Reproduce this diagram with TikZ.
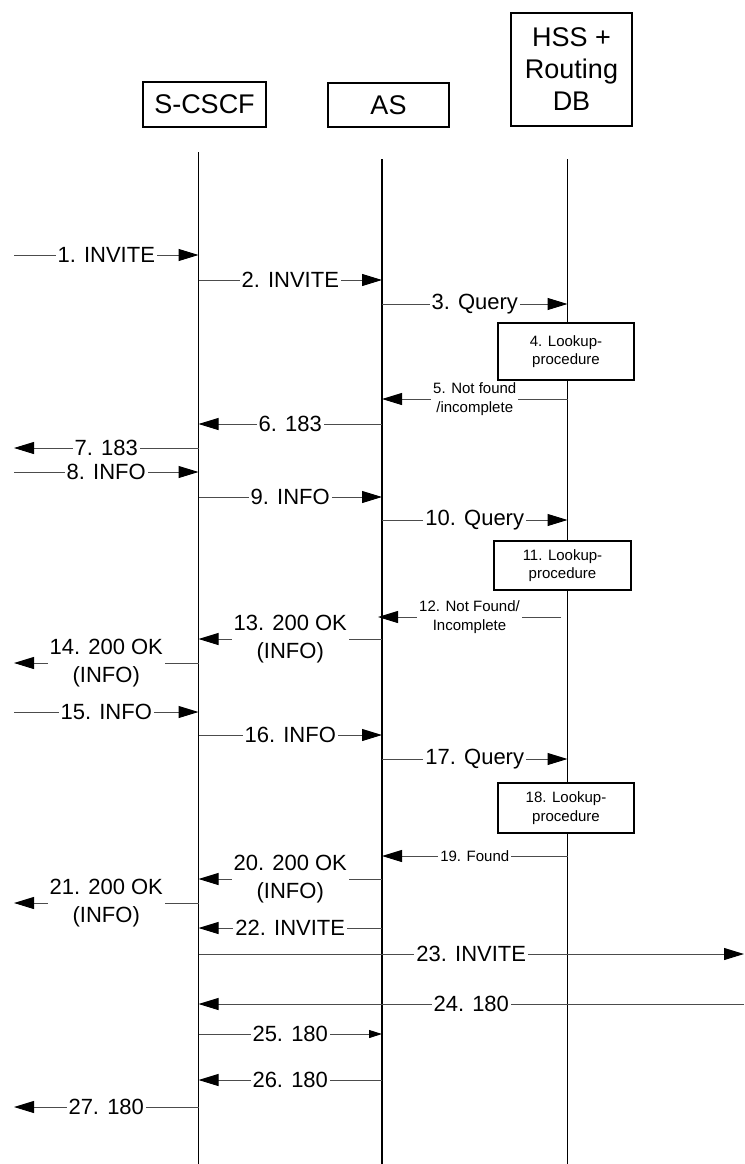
\documentclass[tikz,border=0pt]{standalone}
\usepackage{fontspec}
\setmainfont{Liberation Sans}
\usetikzlibrary{arrows.meta}
\newcommand{\msgfont}{\fontsize{22}{28}\selectfont}
\newcommand{\smallfont}{\fontsize{15}{18.5}\selectfont}
\newcommand{\headfont}{\fontsize{27}{32}\selectfont}
\tikzset{
  life/.style={line width=1.8pt, black},
  headbox/.style={draw, line width=1.4pt, align=center, font=\headfont, inner sep=0pt},
  lookbox/.style={draw, line width=1.4pt, fill=white, align=center, font=\smallfont, inner sep=0pt},
  msg/.style={line width=1pt, black!70, -{Triangle[length=20pt,width=12pt,color=black]}},
  msgsmall/.style={line width=1pt, black!70, -{Triangle[length=13pt,width=8pt,color=black]}},
  lbl/.style={fill=white, inner sep=2pt, text=black, font=\msgfont, align=center, midway},
  slbl/.style={fill=white, inner sep=2pt, text=black, font=\smallfont, align=center, midway}
}
\newcommand{\seqmsg}[5][msg]{\draw[#1] (#2 |- 0,#4) -- (#3 |- 0,#4) node[lbl]{#5};}
\begin{document}
\begin{tikzpicture}[x=1pt,y=-1pt]
\useasboundingbox (0,0) rectangle (744,1164);
% headers
\node[headbox, minimum width=123pt, minimum height=45pt] (hS) at (204.5,104.5) {S-CSCF};
\node[headbox, minimum width=121pt, minimum height=44pt] (hA) at (388.5,105) {AS};
\node[headbox, minimum width=121pt, minimum height=113pt] (hH) at (571.5,69.5) {HSS +\\Routing\\DB};
% lifeline coordinates
\coordinate (sc) at (198.5,152);
\coordinate (as) at (382,159);
\coordinate (hs) at (567.5,159);
\coordinate (L) at (14,0);
\coordinate (R) at (744,0);
\coordinate (scE) at (198.5,1164);
\coordinate (asE) at (382,1164);
\coordinate (hsE) at (567.5,1164);
\draw[life] (sc) -- (scE);
\draw[life] (as) -- (asE);
\draw[life] (hs) -- (hsE);
% lookup boxes
\node[lookbox, minimum width=136pt, minimum height=57pt] (lk4) at (566,351.5) {4. Lookup-\\procedure};
\node[lookbox, minimum width=137pt, minimum height=49pt] (lk11) at (562.5,565.5) {11. Lookup-\\procedure};
\node[lookbox, minimum width=136pt, minimum height=50pt] (lk18) at (566,808) {18. Lookup-\\procedure};
% messages
\seqmsg{L}{sc}{255}{1. INVITE}
\seqmsg{sc}{as}{280}{2. INVITE}
\seqmsg{as}{hs}{304}{3. Query}
\draw[msg] (hs |- 0,399) -- (as |- 0,399) node[slbl]{5. Not found\\/incomplete};
\seqmsg{as}{sc}{424}{6. 183}
\seqmsg{sc}{L}{448}{7. 183}
\seqmsg{L}{sc}{472}{8. INFO}
\seqmsg{sc}{as}{497}{9. INFO}
\seqmsg{as}{hs}{520}{10. Query}
\coordinate (m12s) at (561,617);
\coordinate (m12e) at (378,617);
\draw[msg] (m12s) -- (m12e) node[slbl]{12. Not Found/\\Incomplete};
\seqmsg{as}{sc}{639}{13. 200 OK\\(INFO)}
\seqmsg{sc}{L}{663}{14. 200 OK\\(INFO)}
\seqmsg{L}{sc}{712}{15. INFO}
\seqmsg{sc}{as}{735}{16. INFO}
\seqmsg{as}{hs}{759}{17. Query}
\draw[msg] (hs |- 0,856) -- (as |- 0,856) node[slbl]{19. Found};
\seqmsg{as}{sc}{879}{20. 200 OK\\(INFO)}
\seqmsg{sc}{L}{903}{21. 200 OK\\(INFO)}
\seqmsg{as}{sc}{928}{22. INVITE}
\seqmsg{sc}{R}{954}{23. INVITE}
\seqmsg{R}{sc}{1004}{24. 180}
\seqmsg[msgsmall]{sc}{as}{1034}{25. 180}
\seqmsg{as}{sc}{1080}{26. 180}
\seqmsg{sc}{L}{1107}{27. 180}
\end{tikzpicture}
\end{document}
